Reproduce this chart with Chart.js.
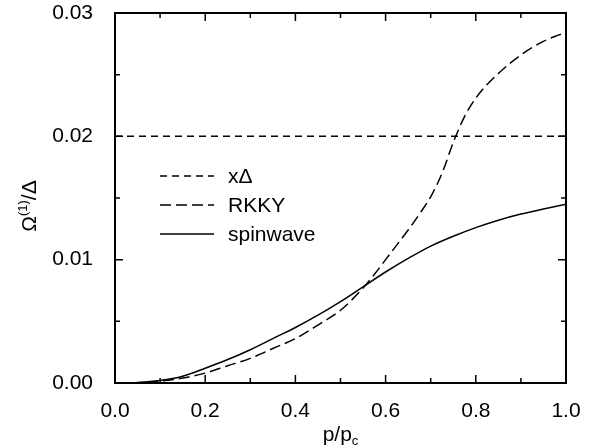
<!DOCTYPE html>
<html>
<head>
<meta charset="utf-8">
<script src="https://cdn.jsdelivr.net/npm/chart.js@4.4.0/dist/chart.umd.min.js"></script>
<style>
    html, body { margin: 0; padding: 0; background: #fff; }
    #wrap { width: 595px; height: 448px; }
</style>
</head>
<body>
<div id="wrap"><canvas id="chart" width="595" height="448"></canvas></div>
<script>
// values (x = p/p_c)
const pRkky = [0, 0.05, 0.1, 0.15, 0.2, 0.25, 0.3, 0.35, 0.4, 0.45, 0.5, 0.55, 0.575, 0.6, 0.625, 0.65, 0.675, 0.7, 0.725, 0.75, 0.775, 0.8, 0.825, 0.85, 0.875, 0.9, 0.925, 0.95, 0.975, 1.0];
const rkky = [0, 0.00003, 0.00015, 0.0004, 0.0008, 0.0014, 0.0020, 0.0028, 0.0036, 0.0047, 0.0059, 0.0077, 0.0088, 0.0100, 0.0112, 0.0124, 0.0137, 0.0151, 0.0170, 0.0195, 0.0216, 0.0231, 0.0242, 0.0251, 0.0259, 0.0266, 0.0272, 0.0277, 0.0281, 0.0284];
const pSpin = [0, 0.05, 0.1, 0.15, 0.2, 0.25, 0.3, 0.35, 0.4, 0.45, 0.5, 0.55, 0.6, 0.65, 0.7, 0.75, 0.8, 0.85, 0.9, 0.95, 1.0];
const spinwave = [0, 0.00004, 0.0002, 0.00055, 0.0012, 0.0019, 0.0027, 0.0036, 0.0045, 0.0055, 0.0066, 0.0078, 0.0090, 0.0101, 0.0111, 0.0119, 0.0126, 0.0132, 0.0137, 0.0141, 0.0145];
const deltaX = [0, 1];
const deltaY = [0.02, 0.02];

const seriesLabels = ["x\u0394", "RKKY", "spinwave"];

// axis ticks
const xTicks = [0, 0.2, 0.4, 0.6, 0.8, 1.0];
const xMinor = [0.1, 0.3, 0.5, 0.7, 0.9];
const yTicks = [0, 0.01, 0.02, 0.03];
const yMinor = [0.005, 0.015, 0.025];

const FONT = "'Liberation Sans', Arial, Helvetica, sans-serif";

function toPoints(xs, ys) {
    return xs.map((x, i) => ({ x: x, y: ys[i] }));
}

// frame, inward ticks, legend and axis titles
const framePlugin = {
    id: "frame",
    afterDatasetsDraw(chart) {
        const ctx = chart.ctx;
        const a = chart.chartArea;
        const xs = chart.scales.x;
        const ys = chart.scales.y;

        ctx.save();
        ctx.strokeStyle = "#000";
        ctx.lineWidth = 2;
        ctx.setLineDash([]);
        ctx.strokeRect(a.left, a.top, a.right - a.left, a.bottom - a.top);

        ctx.lineWidth = 1.5;
        ctx.beginPath();
        const xTick = (v, len) => {
            const px = xs.getPixelForValue(v);
            ctx.moveTo(px, a.bottom); ctx.lineTo(px, a.bottom - len);
            ctx.moveTo(px, a.top); ctx.lineTo(px, a.top + len);
        };
        const yTick = (v, len) => {
            const py = ys.getPixelForValue(v);
            ctx.moveTo(a.left, py); ctx.lineTo(a.left + len, py);
            ctx.moveTo(a.right, py); ctx.lineTo(a.right - len, py);
        };
        xTicks.forEach(v => xTick(v, 8));
        xMinor.forEach(v => xTick(v, 5));
        yTicks.forEach(v => yTick(v, 8));
        yMinor.forEach(v => yTick(v, 5));
        ctx.stroke();

        // legend inside the plot
        const rows = [176, 205, 234];
        chart.data.datasets.forEach((ds, i) => {
            const y = rows[i];
            ctx.beginPath();
            ctx.lineWidth = ds.borderWidth;
            ctx.setLineDash(ds.borderDash || []);
            ctx.moveTo(160, y);
            ctx.lineTo(214, y);
            ctx.stroke();
            ctx.setLineDash([]);
            ctx.fillStyle = "#000";
            ctx.font = "21px " + FONT;
            ctx.textBaseline = "middle";
            ctx.textAlign = "left";
            ctx.fillText(ds.label, 228, y + 1);
        });

        // x title: p/p_c
        ctx.textBaseline = "alphabetic";
        ctx.textAlign = "left";
        ctx.font = "21px " + FONT;
        const main = "p/p";
        const wMain = ctx.measureText(main).width;
        ctx.font = "13px " + FONT;
        const wSub = ctx.measureText("c").width;
        const cx = (a.left + a.right) / 2;
        let x0 = cx - (wMain + wSub) / 2;
        ctx.font = "21px " + FONT;
        ctx.fillText(main, x0, 441);
        ctx.font = "13px " + FONT;
        ctx.fillText("c", x0 + wMain, 445);

        // y title: Omega^(1)/Delta
        ctx.translate(36, (a.top + a.bottom) / 2 + 8);
        ctx.rotate(-Math.PI / 2);
        ctx.font = "21px " + FONT;
        const w1 = ctx.measureText("\u03A9").width;
        const w3 = ctx.measureText("/\u0394").width;
        ctx.font = "13px " + FONT;
        const w2 = ctx.measureText("(1)").width;
        let t0 = -(w1 + w2 + w3) / 2;
        ctx.font = "21px " + FONT;
        ctx.fillText("\u03A9", t0, 0);
        ctx.font = "13px " + FONT;
        ctx.fillText("(1)", t0 + w1, -9);
        ctx.font = "21px " + FONT;
        ctx.fillText("/\u0394", t0 + w1 + w2, 0);
        ctx.restore();
    }
};

const lineStyle = {
    borderColor: "#000",
    borderWidth: 1.5,
    pointRadius: 0,
    fill: false,
    cubicInterpolationMode: "monotone"
};

new Chart(document.getElementById("chart"), {
    type: "line",
    data: {
        datasets: [
            Object.assign({ label: seriesLabels[0], data: toPoints(deltaX, deltaY), borderDash: [7, 5] }, lineStyle),
            Object.assign({ label: seriesLabels[1], data: toPoints(pRkky, rkky), borderDash: [11, 5] }, lineStyle),
            Object.assign({ label: seriesLabels[2], data: toPoints(pSpin, spinwave), borderDash: [] }, lineStyle)
        ]
    },
    options: {
        responsive: false,
        animation: false,
        layout: { padding: { top: 13, right: 29, left: 0, bottom: 0 } },
        plugins: {
            legend: { display: false },
            tooltip: { enabled: false }
        },
        scales: {
            x: {
                type: "linear",
                min: 0,
                max: 1,
                grid: { display: false },
                border: { display: false },
                afterBuildTicks: s => { s.ticks = xTicks.map(v => ({ value: v })); },
                afterFit: s => { s.height = 65; s.paddingLeft = 0; s.paddingRight = 0; },
                ticks: {
                    color: "#000",
                    padding: 8,
                    maxRotation: 0,
                    font: { size: 21, family: FONT },
                    callback: v => Number(v).toFixed(1)
                }
            },
            y: {
                type: "linear",
                min: 0,
                max: 0.03,
                grid: { display: false },
                border: { display: false },
                afterBuildTicks: s => { s.ticks = yTicks.map(v => ({ value: v })); },
                afterFit: s => { s.width = 115; s.paddingTop = 0; s.paddingBottom = 0; },
                ticks: {
                    color: "#000",
                    padding: 14,
                    font: { size: 21, family: FONT },
                    callback: v => Number(v).toFixed(2)
                }
            }
        }
    },
    plugins: [framePlugin]
});
</script>
</body>
</html>
